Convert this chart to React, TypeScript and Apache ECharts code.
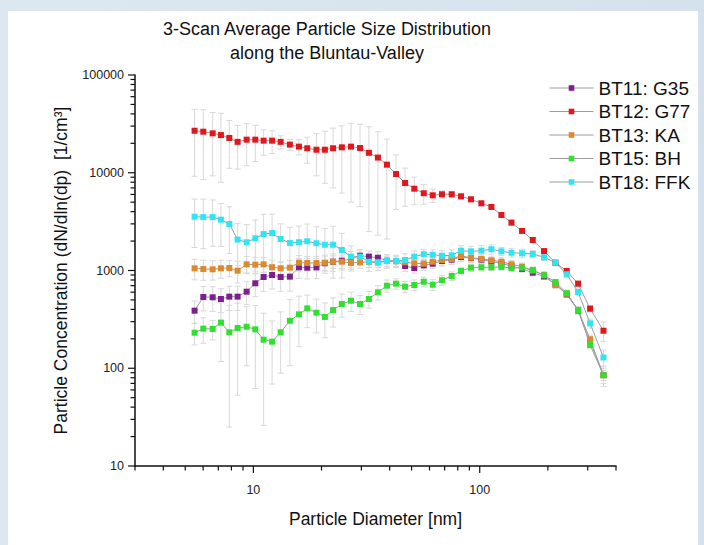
import React, { useEffect, useRef } from 'react';
import * as echarts from 'echarts';

const FONT = '"Liberation Sans", Arial, Helvetica, sans-serif';

// Particle diameters [nm]
const diameters = [5.50, 6.01, 6.61, 7.19, 7.83, 8.52, 9.34, 10.2, 11.1, 12.1, 13.2, 14.5, 15.9, 17.3, 19.0, 20.7, 22.5, 24.6, 27.0, 29.6, 32.4, 35.5, 38.9, 42.7, 46.8, 51.4, 56.6, 62.0, 68.1, 75.2, 82.7, 91.5, 101.7, 112.6, 124.7, 138.1, 153.8, 171.5, 192.3, 216.1, 242.3, 272.0, 307.3, 352.1];

const seriesNames = ['BT11: G35', 'BT12: G77', 'BT13: KA', 'BT15: BH', 'BT18: FFK'];
const seriesColors = ['#7d1f8e', '#e3161d', '#de8a2c', '#2fe02f', '#2ee6f2'];

const bt11 = [388, 536, 532, 511, 540, 540, 607, 740, 858, 899, 858, 865, 1079, 1069, 1079, 1186, 1230, 1260, 1312, 1417, 1385, 1352, 1260, 1250, 1111, 1061, 1130, 1175, 1250, 1290, 1375, 1340, 1290, 1240, 1180, 1110, 1040, 950, 870, 720, 570, 390, 190, 85];
const bt12 = [26900, 26300, 25300, 24300, 22700, 20700, 21800, 21800, 21300, 21300, 20700, 19400, 18500, 17800, 17200, 17200, 17800, 18200, 18500, 17900, 16000, 14300, 12100, 9700, 7850, 6870, 6170, 5880, 6020, 6020, 5740, 5350, 4870, 4470, 3700, 3090, 2540, 2050, 1580, 1200, 990, 733, 407, 242];
const bt13 = [1053, 1035, 1028, 1053, 1061, 996, 1156, 1146, 1156, 1078, 1053, 1069, 1202, 1194, 1194, 1202, 1230, 1230, 1194, 1213, 1222, 1222, 1250, 1240, 1213, 1186, 1175, 1230, 1280, 1312, 1407, 1352, 1312, 1271, 1230, 1156, 1094, 998, 899, 716, 579, 394, 198, 85];
const bt15 = [231, 254, 252, 293, 233, 258, 266, 250, 196, 187, 233, 306, 356, 410, 370, 335, 394, 454, 491, 454, 511, 598, 699, 733, 683, 711, 768, 716, 795, 879, 989, 1069, 1079, 1079, 1087, 1061, 1069, 1011, 893, 762, 585, 394, 173, 85];
const bt18 = [3550, 3520, 3520, 3310, 2990, 2070, 1945, 2135, 2360, 2420, 2100, 1910, 1945, 1990, 1900, 1835, 1835, 1620, 1385, 1385, 1230, 1200, 1250, 1250, 1280, 1385, 1465, 1450, 1417, 1430, 1595, 1570, 1595, 1650, 1570, 1520, 1500, 1475, 1365, 1200, 915, 603, 288, 129];

// standard deviations (error bars)
const bt11Err = [100, 150, 150, 140, 150, 150, 160, 200, 250, 250, 250, 250, 250, 250, 250, 250, 250, 250, 250, 200, 200, 200, 200, 150, 130, 120, 130, 130, 140, 140, 140, 130, 120, 110, 100, 90, 80, 70, 60, 50, 40, 30, 20, 15];
const bt12Err = [17700, 17800, 16000, 16300, 11600, 9800, 10000, 8800, 6200, 5600, 3200, 2500, 3300, 5300, 7900, 9400, 10800, 12000, 13500, 13400, 13500, 12000, 10000, 5500, 3300, 2150, 1400, 900, 500, 400, 350, 300, 300, 250, 200, 180, 150, 120, 100, 80, 60, 50, 30, 55];
const bt13Err = [250, 240, 230, 220, 200, 250, 230, 220, 200, 200, 180, 200, 220, 200, 200, 200, 180, 180, 170, 160, 150, 150, 150, 140, 140, 130, 130, 140, 150, 150, 160, 150, 140, 130, 120, 110, 100, 90, 80, 60, 50, 35, 20, 10];
const bt15Err = [58, 74, 57, 176, 208, 205, 160, 188, 170, 118, 144, 200, 190, 150, 140, 130, 130, 120, 110, 100, 100, 100, 100, 90, 90, 90, 90, 90, 90, 90, 90, 90, 90, 80, 80, 70, 70, 60, 50, 40, 30, 20, 15, 20];
const bt18Err = [1830, 1850, 1750, 1550, 1500, 950, 1000, 1150, 1400, 1350, 900, 850, 900, 1000, 900, 850, 1000, 780, 400, 250, 250, 200, 200, 180, 200, 200, 180, 180, 180, 200, 200, 200, 200, 180, 150, 150, 150, 120, 100, 80, 60, 40, 30, 25];

// axis ticks
const xMajorTicks = [10, 100];
const xMinorTicks = [3, 4, 5, 6, 7, 8, 9, 20, 30, 40, 50, 60, 70, 80, 90, 200, 300, 400];
const yDecades = [10, 100, 1000, 10000];
const yMantissas = [2, 3, 4, 5, 6, 7, 8, 9];
const yMajorTicks = [10, 100, 1000, 10000, 100000];

const X_MIN = 3;
const X_MAX = 400;
const Y_MIN = 10;
const Y_MAX = 100000;

const isPow10 = (v: number) => Math.abs(Math.log10(v) - Math.round(Math.log10(v))) < 1e-6;

export default function App() {
  const ref = useRef<HTMLDivElement>(null);

  useEffect(() => {
    const chart = echarts.init(ref.current!, null, { renderer: 'svg' });
    const values = [bt11, bt12, bt13, bt15, bt18];
    const errors = [bt11Err, bt12Err, bt13Err, bt15Err, bt18Err];

    const errStyle = { stroke: '#d8d8d8', lineWidth: 1 };
    const errSeries = values.map((vals, k) => ({
      type: 'custom',
      name: 'err' + k,
      silent: true,
      clip: false,
      z: 1,
      encode: { x: 0, y: 1 },
      data: diameters.map((d, i) => [d, vals[i], errors[k][i]]),
      renderItem: (_p: any, api: any) => {
        const x = api.value(0);
        const m = api.value(1);
        const e = api.value(2);
        const loRaw = m - e;
        const lo = Math.max(loRaw, Y_MIN);
        const hi = Math.min(m + e, Y_MAX);
        const pt = api.coord([x, hi]);
        const pb = api.coord([x, lo]);
        const cap = 3;
        const children: any[] = [
          { type: 'line', shape: { x1: pt[0], y1: pt[1], x2: pb[0], y2: pb[1] }, style: errStyle },
          { type: 'line', shape: { x1: pt[0] - cap, y1: pt[1], x2: pt[0] + cap, y2: pt[1] }, style: errStyle },
        ];
        if (loRaw > Y_MIN) {
          children.push({ type: 'line', shape: { x1: pb[0] - cap, y1: pb[1], x2: pb[0] + cap, y2: pb[1] }, style: errStyle });
        }
        return { type: 'group', children };
      },
    }));

    const lineSeries = values.map((vals, k) => ({
      type: 'line',
      name: seriesNames[k],
      z: 3,
      data: diameters.map((d, i) => [d, vals[i]]),
      symbol: 'rect',
      symbolSize: 6,
      showSymbol: true,
      lineStyle: { color: '#9c9c9c', width: 1 },
      itemStyle: { color: seriesColors[k] },
      emphasis: { disabled: true },
    }));

    const tickStyle = { stroke: '#111', lineWidth: 1.2 };
    const xTickData = [
      ...xMajorTicks.map((v) => [v, 1]),
      ...xMinorTicks.map((v) => [v, 0]),
    ];
    const yTickData: number[][] = [...yMajorTicks.map((v) => [v, 1])];
    yDecades.forEach((d) => yMantissas.forEach((m) => yTickData.push([d * m, 0])));

    const xTickSeries = {
      type: 'custom',
      name: 'xticks',
      silent: true,
      clip: false,
      z: 5,
      encode: { x: 0 },
      data: xTickData.map((t) => [t[0], Y_MIN, t[1]]),
      renderItem: (_p: any, api: any) => {
        const p = api.coord([api.value(0), Y_MIN]);
        const len = api.value(2) ? 7 : 4.5;
        return { type: 'line', shape: { x1: p[0], y1: p[1], x2: p[0], y2: p[1] + len }, style: tickStyle };
      },
    };
    const yTickSeries = {
      type: 'custom',
      name: 'yticks',
      silent: true,
      clip: false,
      z: 5,
      encode: { y: 1 },
      data: yTickData.map((t) => [X_MIN, t[0], t[1]]),
      renderItem: (_p: any, api: any) => {
        const p = api.coord([X_MIN, api.value(1)]);
        const len = api.value(2) ? 7 : 4.5;
        return { type: 'line', shape: { x1: p[0], y1: p[1], x2: p[0] - len, y2: p[1] }, style: tickStyle };
      },
    };

    const option: any = {
      animation: false,
      backgroundColor: 'transparent',
      textStyle: { fontFamily: FONT },
      graphic: [
        {
          type: 'text', x: 327, y: 29,
          style: { text: '3-Scan Average Particle Size Distribution', fill: '#111', font: `18px ${FONT}`, textAlign: 'center', textVerticalAlign: 'middle' },
        },
        {
          type: 'text', x: 327, y: 53,
          style: { text: 'along the Bluntau-Valley', fill: '#111', font: `18px ${FONT}`, textAlign: 'center', textVerticalAlign: 'middle' },
        },
      ],
      legend: {
        data: seriesNames,
        orient: 'vertical',
        left: 544,
        top: 73,
        itemWidth: 44,
        itemHeight: 7,
        itemGap: 3.5,
        selectedMode: false,
        lineStyle: { color: '#9c9c9c', width: 1 },
        textStyle: { fontSize: 19, color: '#111', fontFamily: FONT, lineHeight: 20 },
      },
      grid: { left: 135, top: 75, right: 88, bottom: 79, containLabel: false },
      xAxis: {
        type: 'log',
        logBase: 10,
        min: X_MIN,
        max: X_MAX,
        axisLine: { onZero: false, lineStyle: { color: '#111', width: 1.5 } },
        axisTick: { show: false },
        splitLine: { show: false },
        minorTick: { show: false },
        axisLabel: {
          fontSize: 12.5,
          color: '#222',
          margin: 17,
          fontFamily: FONT,
          formatter: (v: number) => (isPow10(v) && v >= 10 ? String(Math.round(v)) : ''),
        },
        name: 'Particle Diameter [nm]',
        nameLocation: 'middle',
        nameGap: 44,
        nameTextStyle: { fontSize: 17.5, color: '#111', fontFamily: FONT },
      },
      yAxis: {
        type: 'log',
        logBase: 10,
        min: Y_MIN,
        max: Y_MAX,
        axisLine: { onZero: false, lineStyle: { color: '#111', width: 1.5 } },
        axisTick: { show: false },
        splitLine: { show: false },
        minorTick: { show: false },
        axisLabel: {
          fontSize: 12.5,
          color: '#222',
          margin: 11,
          fontFamily: FONT,
          formatter: (v: number) => (isPow10(v) ? String(Math.round(v)) : ''),
        },
        name: 'Particle Concentration (dN/dln(dp)  [1/cm³]',
        nameLocation: 'middle',
        nameRotate: 90,
        nameGap: 65,
        nameTextStyle: { fontSize: 17.5, color: '#111', fontFamily: FONT },
      },
      tooltip: { show: false },
      series: [...errSeries, ...lineSeries, xTickSeries, yTickSeries],
    };

    chart.setOption(option);
    return () => {
      chart.dispose();
    };
  }, []);

  return (
    <div
      style={{
        position: 'fixed',
        left: 0,
        top: 0,
        width: 704,
        height: 545,
        overflow: 'hidden',
        background: 'linear-gradient(90deg, #dde7f0 0%, #d5e2ed 100%)',
      }}
    >
      <div style={{ position: 'absolute', left: 8, top: 11, width: 690, height: 534, background: '#ffffff' }} />
      <div ref={ref} style={{ position: 'absolute', left: 0, top: 0, width: 704, height: 545 }} />
    </div>
  );
}
